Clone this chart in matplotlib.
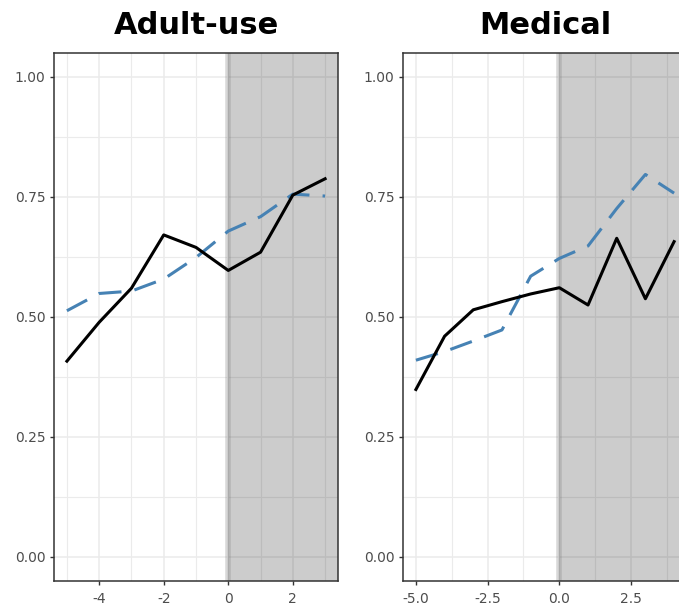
import numpy as np
import matplotlib
matplotlib.use("Agg")
import matplotlib.pyplot as plt
from matplotlib.ticker import FixedLocator, FixedFormatter

# adult-use panel
adult_x = [-5, -4, -3, -2, -1, 0, 1, 2, 3]
adult_black = [0.408, 0.489, 0.560, 0.671, 0.645, 0.597, 0.635, 0.754, 0.788]
adult_blue = [0.513, 0.549, 0.554, 0.579, 0.624, 0.679, 0.709, 0.756, 0.752]

# medical panel
med_x = [-5, -4, -3, -2, -1, 0, 1, 2, 3, 4]
med_black = [0.349, 0.460, 0.515, 0.532, 0.548, 0.561, 0.525, 0.664, 0.538, 0.657]
med_blue = [0.410, 0.428, 0.450, 0.473, 0.585, 0.622, 0.648, 0.726, 0.797, 0.758]

titles = ["Adult-use", "Medical"]
adult_ticks = [-4, -2, 0, 2]
adult_minor = [-5, -3, -1, 1, 3]
med_ticks = [-5.0, -2.5, 0.0, 2.5]
med_minor = [-3.75, -1.25, 1.25, 3.75]
y_ticks = [0.0, 0.25, 0.5, 0.75, 1.0]
y_minor = [0.125, 0.375, 0.625, 0.875]

W, H = 679, 607
fig = plt.figure(figsize=(W / 100, H / 100), dpi=100)
fig.patch.set_facecolor("white")

# axes boxes in pixels: left, top, width, height
boxes = [(54, 53, 284, 528), (403, 53, 284, 528)]
panels = [
    (adult_x, adult_black, adult_blue, adult_ticks, adult_minor, ["-4", "-2", "0", "2"]),
    (med_x, med_black, med_blue, med_ticks, med_minor, ["-5.0", "-2.5", "0.0", "2.5"]),
]

for (l, t, w, h), (xs, blk, blu, xt, xm, xl), title in zip(boxes, panels, titles):
    ax = fig.add_axes([l / W, (H - t - h) / H, w / W, h / H])
    lo, hi = min(xs), max(xs)
    pad = (hi - lo) * 0.05
    ax.set_xlim(lo - pad, hi + pad)
    ax.set_ylim(-0.05, 1.05)

    ax.set_axisbelow(True)
    ax.xaxis.set_major_locator(FixedLocator(xt))
    ax.xaxis.set_major_formatter(FixedFormatter(xl))
    ax.xaxis.set_minor_locator(FixedLocator(xm))
    ax.yaxis.set_major_locator(FixedLocator(y_ticks))
    ax.yaxis.set_major_formatter(FixedFormatter(["0.00", "0.25", "0.50", "0.75", "1.00"]))
    ax.yaxis.set_minor_locator(FixedLocator(y_minor))
    ax.grid(which="major", color="#EBEBEB", lw=1.1)
    ax.grid(which="minor", color="#EBEBEB", lw=0.8)

    # shaded post period and the vertical marker at 0
    ax.axvspan(0, hi + pad, color="black", alpha=0.2, lw=0)
    ax.axvline(0, color="gray", alpha=0.3, lw=4)

    ax.plot(xs, blu, color="#4682B4", lw=2.2, dashes=(7.5, 4.3))
    ax.plot(xs, blk, color="black", lw=2.2)

    ax.tick_params(which="major", length=3, width=1, color="#333333",
                   labelcolor="#4D4D4D", labelsize=10)
    ax.tick_params(axis="x", pad=5)
    ax.tick_params(axis="y", pad=3)
    ax.tick_params(which="minor", length=0)
    for s in ax.spines.values():
        s.set_color("#333333")
        s.set_linewidth(1.1)

    ax.set_title(title, fontsize=22, fontweight="bold", pad=14)

fig.savefig("out.png", dpi=100)
